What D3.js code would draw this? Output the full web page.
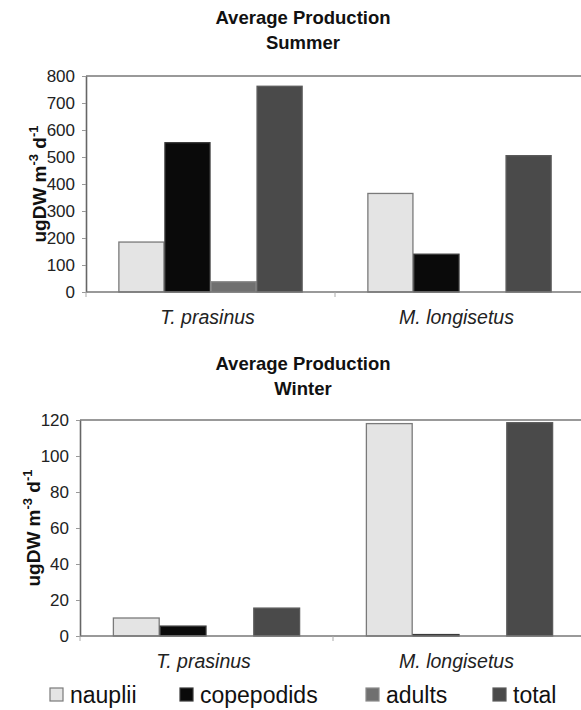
<!DOCTYPE html>
<html>
<head>
<meta charset="utf-8">
<script src="https://cdn.jsdelivr.net/npm/d3@7"></script>
<style>
  body { margin: 0; background: #fff; }
  svg { display: block; font-family: "Liberation Sans", Arial, sans-serif; }
</style>
</head>
<body>
<svg id="chart" width="581" height="710"></svg>
<script>
const categories = ["T. prasinus", "M. longisetus"];
const series = ["nauplii", "copepodids", "adults", "total"];
const summerValues = [
  [185, 553, 38, 762],
  [365, 140, 0, 505]
];
const winterValues = [
  [10, 5.5, 0, 15.5],
  [118, 0.8, 0, 118.5]
];
const summerTicks = [0, 100, 200, 300, 400, 500, 600, 700, 800];
const winterTicks = [0, 20, 40, 60, 80, 100, 120];
const seriesColors = ["#e4e4e4", "#0a0a0a", "#707070", "#4a4a4a"];
const seriesStroke = ["#7a7a7a", "#3a3a3a", "#8a8a8a", "#5a5a5a"];

const svg = d3.select("#chart");

function drawPanel(opt) {
  const g = svg.append("g");
  const x = d3.scaleBand().domain(categories).range([opt.left, opt.left + 2 * opt.band]);
  const bw = x.bandwidth();
  const pad = bw * 0.13;
  const xs = d3.scaleBand().domain(series).range([pad, bw - pad]);
  const y = d3.scaleLinear().domain(opt.domain).range([opt.bottom, opt.top]);

  // title
  g.append("text").attr("x", 303).attr("y", opt.titleY).attr("text-anchor", "middle")
    .attr("font-weight", "bold").attr("font-size", 18.5).attr("fill", "#111")
    .text("Average Production");
  g.append("text").attr("x", 303).attr("y", opt.titleY + 25).attr("text-anchor", "middle")
    .attr("font-weight", "bold").attr("font-size", 18.5).attr("fill", "#111")
    .text(opt.season);

  // top border
  g.append("line").attr("x1", opt.left).attr("x2", 600)
    .attr("y1", opt.top).attr("y2", opt.top)
    .attr("stroke", "#777").attr("stroke-width", 1.6);

  // bars
  opt.values.forEach((row, ci) => {
    g.append("g").attr("transform", `translate(${x(categories[ci])},0)`)
      .selectAll("rect").data(row).join("rect")
      .attr("x", (d, i) => xs(series[i]) + 0.5)
      .attr("width", xs.bandwidth() - 1)
      .attr("y", d => y(d))
      .attr("height", d => Math.max(0, y(0) - y(d)))
      .attr("fill", (d, i) => seriesColors[i])
      .attr("stroke", (d, i) => seriesStroke[i])
      .attr("stroke-width", 1.3);
  });

  // y axis
  const ya = g.append("g").attr("transform", `translate(${opt.left},0)`)
    .call(d3.axisLeft(y).tickValues(opt.ticks).tickSize(4).tickPadding(7).tickSizeOuter(0));
  ya.select(".domain").attr("stroke", "#666").attr("stroke-width", 1.6);
  ya.selectAll(".tick line").attr("stroke", "#999");
  ya.selectAll(".tick text").attr("font-size", 17).attr("fill", "#222")
    .attr("font-family", "'Liberation Sans', Arial, sans-serif");

  // x axis
  const xa = g.append("g").attr("transform", `translate(0,${opt.bottom})`)
    .call(d3.axisBottom(x).tickSize(0).tickFormat("").tickSizeOuter(0));
  xa.select(".domain").attr("stroke", "#777").attr("stroke-width", 1.6).attr("d", `M${opt.left},0H600`);
  // category separators
  const seps = [opt.left, opt.left + opt.band, opt.left + 2 * opt.band];
  g.selectAll(".sep" + opt.season).data(seps).join("line")
    .attr("x1", d => d).attr("x2", d => d)
    .attr("y1", opt.bottom).attr("y2", opt.bottom + 5)
    .attr("stroke", "#aaa").attr("stroke-width", 1);

  // category labels
  g.selectAll(".cat" + opt.season).data(categories).join("text")
    .attr("x", d => x(d) + bw / 2 - 3)
    .attr("y", opt.bottom + 32)
    .attr("text-anchor", "middle")
    .attr("font-style", "italic").attr("font-size", 19.5).attr("fill", "#222")
    .text(d => d);

  // y label
  const yl = g.append("text")
    .attr("transform", `translate(${opt.ylabX},${(opt.top + opt.bottom) / 2}) rotate(-90)`)
    .attr("text-anchor", "middle").attr("font-weight", "bold").attr("font-size", 19).attr("fill", "#111");
  yl.append("tspan").text("ugDW m");
  yl.append("tspan").attr("font-size", 13).attr("dy", -8).text("-3");
  yl.append("tspan").attr("dy", 8).text(" d");
  yl.append("tspan").attr("font-size", 13).attr("dy", -8).text("-1");
}

drawPanel({season: "Summer", values: summerValues, ticks: summerTicks, domain: [0, 800],
  left: 86, band: 249, top: 76, bottom: 292, titleY: 24, ylabX: 46});
drawPanel({season: "Winter", values: winterValues, ticks: winterTicks, domain: [0, 120],
  left: 80, band: 253, top: 420, bottom: 636, titleY: 370, ylabX: 40});

// legend
const legendX = [50, 180, 366, 493];
const lg = svg.append("g");
series.forEach((s, i) => {
  lg.append("rect").attr("x", legendX[i]).attr("y", 688).attr("width", 13).attr("height", 13)
    .attr("fill", seriesColors[i]).attr("stroke", seriesStroke[i]).attr("stroke-width", 1.2);
  lg.append("text").attr("x", legendX[i] + 20).attr("y", 703)
    .attr("font-size", 23).attr("fill", "#111").text(s);
});
</script>
</body>
</html>
